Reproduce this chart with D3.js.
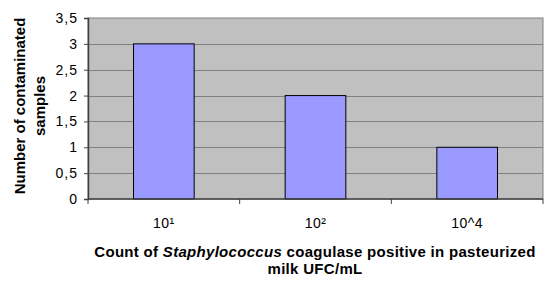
<!DOCTYPE html>
<html>
<head>
<meta charset="utf-8">
<script src="https://cdn.jsdelivr.net/npm/d3@7"></script>
<style>
  body { margin: 0; background: #fff; }
  text { font-family: "Liberation Sans", Arial, sans-serif; }
</style>
</head>
<body>
<div id="chart"></div>
<script>
const categories = ["10\u00B9", "10\u00B2", "10^4"];
const samples = [3, 2, 1];
const yTicks = [0, 0.5, 1, 1.5, 2, 2.5, 3, 3.5];

let width = 548,
    height = 288,
    margin = ({ top: 18, right: 5, bottom: 89, left: 88 });

const svg = d3.select("#chart")
  .append("svg")
  .attr("width", width)
  .attr("height", height);

let x = d3.scaleBand()
  .domain(categories)
  .range([margin.left, width - margin.right])
  .paddingInner(0.6)
  .paddingOuter(0.3);

let y = d3.scaleLinear()
  .domain([0, 3.5])
  .range([height - margin.bottom, margin.top]);

// plot area
svg.append("rect")
  .attr("x", margin.left)
  .attr("y", margin.top)
  .attr("width", width - margin.right - margin.left)
  .attr("height", height - margin.bottom - margin.top)
  .attr("fill", "#c0c0c0")
  .attr("stroke", "#808080")
  .attr("stroke-width", 1);

// gridlines
svg.append("g")
  .selectAll("line")
  .data(yTicks.filter(d => d > 0 && d < 3.5))
  .join("line")
  .attr("x1", margin.left)
  .attr("x2", width - margin.right)
  .attr("y1", d => Math.round(y(d)) + 0.5)
  .attr("y2", d => Math.round(y(d)) + 0.5)
  .attr("stroke", "#808080");

// bars
svg.append("g")
  .selectAll("rect")
  .data(samples)
  .join("rect")
  .attr("x", (d, i) => x(categories[i]))
  .attr("y", d => y(d))
  .attr("width", x.bandwidth())
  .attr("height", d => y(0) - y(d))
  .attr("fill", "#9999ff")
  .attr("stroke", "#000")
  .attr("stroke-width", 1);

// y axis
let yAxis = svg.append("g")
  .attr("transform", `translate(${margin.left},0)`)
  .call(d3.axisLeft(y).tickValues(yTicks).tickSize(4).tickPadding(6)
    .tickFormat(d => String(d).replace(".", ",")));
yAxis.select(".domain").attr("stroke", "#404040").attr("stroke-width", 1.5);
yAxis.selectAll(".tick line").attr("stroke", "#404040");
yAxis.selectAll("text").attr("font-size", 14).attr("letter-spacing", 1).attr("fill", "#000");

// x axis, ticks at category boundaries
let xAxis = svg.append("g")
  .attr("transform", `translate(0,${height - margin.bottom})`);
xAxis.append("line")
  .attr("x1", margin.left)
  .attr("x2", width - margin.right)
  .attr("stroke", "#404040")
  .attr("stroke-width", 1.5);
let bounds = d3.range(categories.length + 1).map(i => margin.left + (width - margin.right - margin.left) * i / categories.length);
xAxis.selectAll(".tk")
  .data(bounds)
  .join("line")
  .attr("x1", d => d)
  .attr("x2", d => d)
  .attr("y1", 0)
  .attr("y2", 5)
  .attr("stroke", "#404040");
xAxis.selectAll(".lbl")
  .data(categories)
  .join("text")
  .attr("x", d => x(d) + x.bandwidth() / 2)
  .attr("y", 29)
  .attr("text-anchor", "middle")
  .attr("font-size", 14)
  .attr("letter-spacing", 0.5)
  .text(d => d);

// x title
let xt = svg.append("text")
  .attr("x", 315)
  .attr("y", 257)
  .attr("text-anchor", "middle")
  .attr("font-size", 15)
  .attr("letter-spacing", 0.3)
  .attr("font-weight", "bold");
xt.append("tspan").text("Count of ");
xt.append("tspan").attr("font-style", "italic").text("Staphylococcus");
xt.append("tspan").text(" coagulase positive in pasteurized");
svg.append("text")
  .attr("x", 315)
  .attr("y", 274)
  .attr("text-anchor", "middle")
  .attr("font-size", 15)
  .attr("letter-spacing", 0.3)
  .attr("font-weight", "bold")
  .text("milk UFC/mL");

// y title
let cy = 106;
svg.append("text")
  .attr("transform", `translate(25,${cy}) rotate(-90)`)
  .attr("text-anchor", "middle")
  .attr("font-size", 15)
  .attr("font-weight", "bold")
  .text("Number of contaminated");
svg.append("text")
  .attr("transform", `translate(45,${cy}) rotate(-90)`)
  .attr("text-anchor", "middle")
  .attr("font-size", 15)
  .attr("font-weight", "bold")
  .text("samples");
</script>
</body>
</html>
